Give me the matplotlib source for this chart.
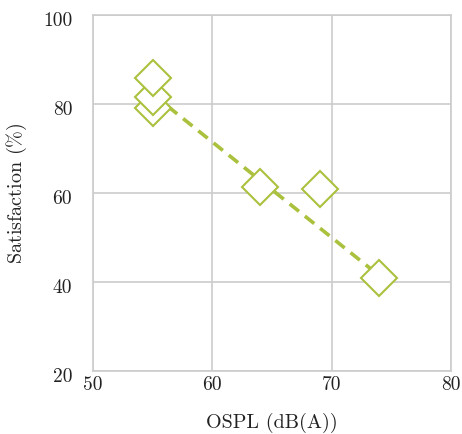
import matplotlib
matplotlib.use("Agg")
import matplotlib.pyplot as plt
from matplotlib.transforms import ScaledTranslation

ospl = [55, 55, 55, 64, 69, 74]
satisfaction = [79.1, 81.6, 85.8, 61.4, 60.8, 40.8]
fit_x = [55, 74]
fit_y = [82.2, 41.4]
xticks = [50, 60, 70, 80]
yticks = [20, 40, 60, 80, 100]

color = "#a9c13d"
plt.rcParams["font.family"] = ["cmr10", "DejaVu Serif"]
plt.rcParams["axes.unicode_minus"] = False
plt.rcParams["mathtext.fontset"] = "cm"

fig = plt.figure(figsize=(4.62, 4.34), dpi=100)
ax = fig.add_axes([0.2013, 0.1452, 0.7749, 0.8202])
ax.set_xlim(50, 80)
ax.set_ylim(20, 100)
ax.set_xticks(xticks)
ax.set_yticks(yticks)
ax.grid(True, color="#cccccc", linewidth=1.2)
ax.set_axisbelow(True)
for s in ax.spines.values():
    s.set_color("#cccccc")
    s.set_linewidth(1.2)
ax.tick_params(axis="x", length=0, labelsize=14, pad=4, colors="#222222")
ax.tick_params(axis="y", length=0, labelsize=14, pad=15, colors="#222222")

ax.plot(fit_x, fit_y, linestyle=(0, (3.3, 2.1)), color=color, linewidth=2.6, zorder=2)
ax.plot(ospl, satisfaction, linestyle="none", marker="D", markersize=18.5,
        markerfacecolor="white", markeredgecolor=color, markeredgewidth=1.5, zorder=3)

ax.set_xlabel("OSPL (dB(A))", fontsize=14.5, labelpad=13, color="#222222")
ax.set_ylabel(r"Satisfaction $\mathrm{(\%)}$", fontsize=14.5, labelpad=10, color="#222222")

fig.canvas.draw()
off = ScaledTranslation(0, -4 / 100, fig.dpi_scale_trans)
for lab in ax.get_yticklabels():
    lab.set_transform(lab.get_transform() + off)

fig.savefig("out.png", dpi=100)
